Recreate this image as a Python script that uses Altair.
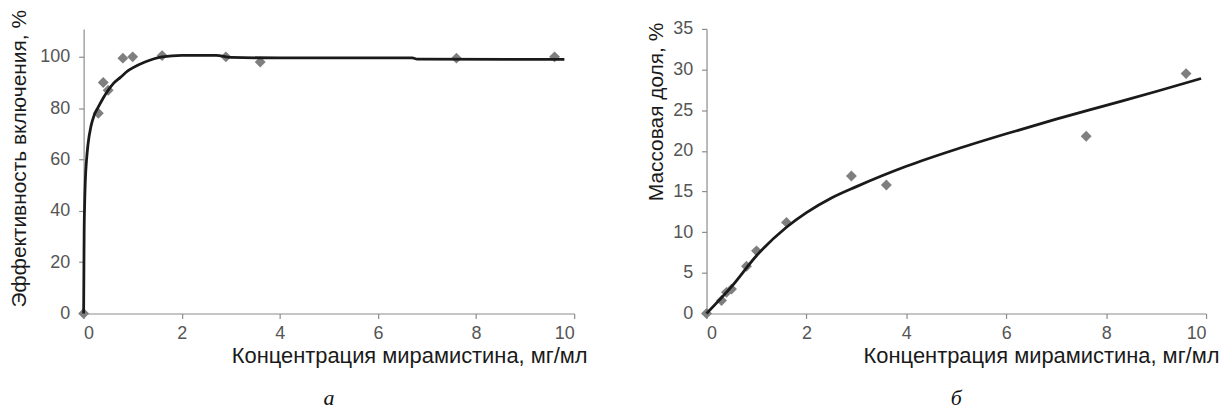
import altair as alt
import pandas as pd

# measured points (concentration of miramistin, mg/ml)
conc = [0, 0.3, 0.4, 0.5, 0.8, 1.0, 1.6, 2.9, 3.6, 7.6, 9.6]
eff = [0, 78, 90, 87, 99.5, 100, 100.5, 100, 98, 99.5, 100]
mass = [0, 1.6, 2.6, 3.0, 5.8, 7.7, 11.2, 16.9, 15.8, 21.8, 29.5]

# trend line a
fit_a_x = [0, 0.005, 0.01, 0.02, 0.035, 0.06, 0.09, 0.15, 0.22, 0.3, 0.4, 0.5, 0.6,
           0.75, 0.9, 1.0, 1.25, 1.6, 2.0, 2.7, 3.0, 4.0, 6.7, 6.8, 9.8]
fit_a_y = [0, 15, 30, 42, 52, 60, 66, 73, 77.5, 80.5, 84, 87, 89.5,
           92, 94.5, 95.7, 98, 100, 100.6, 100.6, 99.8, 99.6, 99.6, 99.1, 99]

# trend line b
fit_b_x = [0, 0.5, 1, 1.6, 2, 2.5, 3, 3.5, 4, 5, 6, 7, 8, 9, 9.9]
fit_b_y = [0, 3.3, 7.1, 10.6, 12.4, 14.2, 15.6, 16.9, 18.1, 20.2, 22.1, 23.9, 25.6, 27.3, 28.9]

XTITLE = "Концентрация мирамистина, мг/мл"
FONT = "Liberation Sans"


def panel(py, fx, fy, ytitle, ydomain, yticks, width, height, caption, ytx, yty):
    pts = pd.DataFrame({"x": conc, "y": py})
    fit = pd.DataFrame({"x": fx, "y": fy})
    xenc = alt.X("x:Q", scale=alt.Scale(domain=[0, 10], nice=False, zero=False),
                 axis=alt.Axis(values=[0, 2, 4, 6, 8, 10], title=XTITLE,
                               titleX=width + 13, titleY=32, titleAlign="right",
                               titleBaseline="top", titleFontSize=22))
    yenc = alt.Y("y:Q", scale=alt.Scale(domain=ydomain, nice=False, zero=False),
                 axis=alt.Axis(values=yticks, title=ytitle, titleX=ytx, titleY=yty,
                               titleAlign="center", titleBaseline="middle", titleAngle=-90,
                               titleFontSize=21))
    p = alt.Chart(pts).mark_point(shape="diamond", filled=True, size=120, color="#7f7f7f",
                                  opacity=1).encode(x=xenc, y=yenc)
    l = alt.Chart(fit).mark_line(color="#1a1a1a", strokeWidth=2.8,
                                 interpolate="monotone").encode(x="x:Q", y="y:Q")
    return alt.layer(p, l).properties(
        width=width, height=height,
        title=alt.TitleParams(caption, orient="bottom", anchor="middle", frame="group",
                              font="Liberation Serif", fontStyle="italic", fontWeight="normal",
                              fontSize=22, color="#111", offset=22))


left = panel(eff, fit_a_x, fit_a_y, "Эффективность включения, %", [0, 110.9],
             [0, 20, 40, 60, 80, 100], 493, 286, "а", -64, 130)
right = panel(mass, fit_b_x, fit_b_y, "Массовая доля, %", [0, 35],
              [0, 5, 10, 15, 20, 25, 30, 35], 502, 286, "б", -50, 83)

chart = alt.hconcat(left, right, spacing=133, bounds="flush").configure(
    padding={"left": 0, "top": 0, "right": 0, "bottom": 0},
    font=FONT,
).configure_view(stroke=None).configure_axis(
    grid=False, domainColor="#8c8c8c", tickColor="#8c8c8c", domainWidth=1.2, tickWidth=1.2,
    tickSize=5, labelFont=FONT, labelFontSize=18, labelColor="#555", labelPadding=9,
    titleFont=FONT, titleFontWeight="normal", titleColor="#1a1a1a",
).configure_axisX(labelPadding=6)

chart.save("out.html", embed_options={"renderer": "svg", "actions": False})
